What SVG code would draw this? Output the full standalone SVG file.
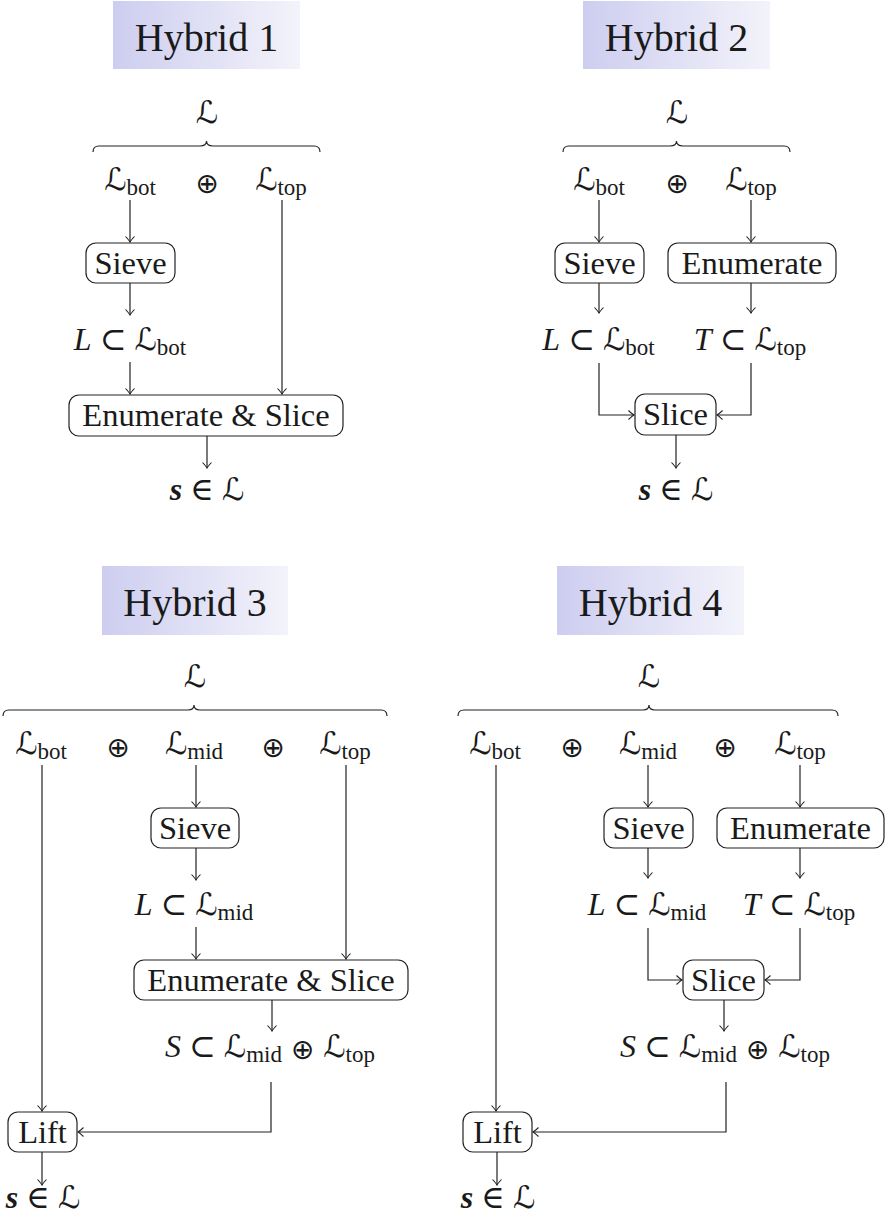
<svg xmlns="http://www.w3.org/2000/svg" width="889" height="1224" viewBox="0 0 889 1224">
<defs>
<linearGradient id="tg" x1="0" y1="0" x2="1" y2="0">
<stop offset="0" stop-color="#cdcdf0"/>
<stop offset="1" stop-color="#f3f3fb"/>
</linearGradient>
<marker id="arr" viewBox="-7 -6 8 12" refX="0" refY="0" markerWidth="8" markerHeight="12" markerUnits="userSpaceOnUse" orient="auto">
<path d="M-5.5,-4.5 Q-1.5,-0.8 0,0 Q-1.5,0.8 -5.5,4.5" fill="none" stroke="#222" stroke-width="1.1"/>
</marker>
<style>
.tbox{fill:url(#tg);stroke:none}
.title{font-family:"Liberation Serif",serif;font-size:40px;fill:#1a1a1a;text-anchor:middle}
.box{fill:#fff;stroke:#222;stroke-width:1.2}
.lbl{font-family:"Liberation Serif",serif;font-size:32.5px;fill:#1a1a1a;text-anchor:middle}
.m{font-family:"Liberation Serif","DejaVu Serif","DejaVu Sans",serif;font-size:32px;fill:#1a1a1a;text-anchor:middle}
.cal{font-family:"DejaVu Serif","DejaVu Sans",serif;font-size:31px}
.i{font-style:italic}
.bi{font-style:italic;font-weight:bold}
.sub{font-size:23px}
.op{font-family:"DejaVu Sans",sans-serif;font-size:28px}
.conn{fill:none;stroke:#222;stroke-width:1.2}
.ar{marker-end:url(#arr)}
.brace{fill:none;stroke:#222;stroke-width:1.2}
</style>
</defs>

<!-- ===== Hybrid 1 ===== -->
<g id="hybrid1-title">
<rect class="tbox" x="113" y="1" width="187" height="68"/>
<text class="title" x="206.5" y="51">Hybrid 1</text>
</g>
<g id="h1-L">
<text class="m" x="207" y="123"><tspan class="cal">ℒ</tspan></text>
<path class="brace" d="M93,152 Q93,146 99,146 L200,146 Q206.5,146 206.5,141 Q206.5,146 213,146 L314,146 Q320,146 320,152"/>
</g>
<g id="h1-Lbot"><text class="m" x="130" y="190"><tspan class="cal">ℒ</tspan><tspan class="sub" dy="5">bot</tspan></text></g>
<g id="h1-oplus"><text class="m op" x="207" y="193">⊕</text></g>
<g id="h1-Ltop"><text class="m" x="281" y="190"><tspan class="cal">ℒ</tspan><tspan class="sub" dy="5">top</tspan></text></g>
<g id="h1-sieve"><rect class="box" x="86" y="243" width="89" height="40" rx="10"/><text class="lbl" x="130.5" y="274">Sieve</text></g>
<g id="h1-LsubLbot"><text class="m" x="130" y="350"><tspan class="i">L</tspan> ⊂ <tspan class="cal">ℒ</tspan><tspan class="sub" dy="5">bot</tspan></text></g>
<g id="h1-enumslice"><rect class="box" x="69" y="395" width="274" height="41" rx="10"/><text class="lbl" x="206" y="426">Enumerate &amp; Slice</text></g>
<g id="h1-out"><text class="m" x="207" y="500"><tspan class="bi">s</tspan> ∈ <tspan class="cal">ℒ</tspan></text></g>

<!-- ===== Hybrid 2 ===== -->
<g id="hybrid2-title">
<rect class="tbox" x="583" y="1" width="187" height="68"/>
<text class="title" x="676.5" y="51">Hybrid 2</text>
</g>
<g id="h2-L">
<text class="m" x="677" y="123"><tspan class="cal">ℒ</tspan></text>
<path class="brace" d="M563,152 Q563,146 569,146 L670,146 Q676.5,146 676.5,141 Q676.5,146 683,146 L784,146 Q790,146 790,152"/>
</g>
<g id="h2-Lbot"><text class="m" x="599" y="190"><tspan class="cal">ℒ</tspan><tspan class="sub" dy="5">bot</tspan></text></g>
<g id="h2-oplus"><text class="m op" x="677" y="193">⊕</text></g>
<g id="h2-Ltop"><text class="m" x="751" y="190"><tspan class="cal">ℒ</tspan><tspan class="sub" dy="5">top</tspan></text></g>
<g id="h2-sieve"><rect class="box" x="555" y="243" width="89" height="40" rx="10"/><text class="lbl" x="599.5" y="274">Sieve</text></g>
<g id="h2-enum"><rect class="box" x="668" y="243" width="168" height="40" rx="10"/><text class="lbl" x="752" y="274">Enumerate</text></g>
<g id="h2-LsubLbot"><text class="m" x="598.5" y="350"><tspan class="i">L</tspan> ⊂ <tspan class="cal">ℒ</tspan><tspan class="sub" dy="5">bot</tspan></text></g>
<g id="h2-TsubLtop"><text class="m" x="750" y="350"><tspan class="i">T</tspan> ⊂ <tspan class="cal">ℒ</tspan><tspan class="sub" dy="5">top</tspan></text></g>
<g id="h2-slice"><rect class="box" x="635" y="394" width="81" height="41" rx="10"/><text class="lbl" x="675.5" y="425">Slice</text></g>
<g id="h2-out"><text class="m" x="676" y="500"><tspan class="bi">s</tspan> ∈ <tspan class="cal">ℒ</tspan></text></g>

<!-- ===== Hybrid 3 ===== -->
<g id="hybrid3-title">
<rect class="tbox" x="102" y="566" width="186" height="69"/>
<text class="title" x="195" y="616">Hybrid 3</text>
</g>
<g id="h3-L">
<text class="m" x="195" y="687"><tspan class="cal">ℒ</tspan></text>
<path class="brace" d="M3,716 Q3,710 9,710 L188,710 Q194,710 194,705 Q194,710 200,710 L381,710 Q387,710 387,716"/>
</g>
<g id="h3-Lbot"><text class="m" x="41" y="754"><tspan class="cal">ℒ</tspan><tspan class="sub" dy="5">bot</tspan></text></g>
<g id="h3-oplus1"><text class="m op" x="118" y="757">⊕</text></g>
<g id="h3-Lmid"><text class="m" x="194" y="754"><tspan class="cal">ℒ</tspan><tspan class="sub" dy="5">mid</tspan></text></g>
<g id="h3-oplus2"><text class="m op" x="273" y="757">⊕</text></g>
<g id="h3-Ltop"><text class="m" x="345" y="754"><tspan class="cal">ℒ</tspan><tspan class="sub" dy="5">top</tspan></text></g>
<g id="h3-sieve"><rect class="box" x="151" y="808" width="88" height="40" rx="10"/><text class="lbl" x="195" y="839">Sieve</text></g>
<g id="h3-LsubLmid"><text class="m" x="194" y="915"><tspan class="i">L</tspan> ⊂ <tspan class="cal">ℒ</tspan><tspan class="sub" dy="5">mid</tspan></text></g>
<g id="h3-enumslice"><rect class="box" x="134" y="960" width="274" height="40" rx="10"/><text class="lbl" x="271" y="991">Enumerate &amp; Slice</text></g>
<g id="h3-S"><text class="m" x="270" y="1057"><tspan class="i">S</tspan> ⊂ <tspan class="cal">ℒ</tspan><tspan class="sub" dy="5">mid</tspan><tspan class="op" dy="-3"> ⊕ </tspan><tspan class="cal" dy="-2">ℒ</tspan><tspan class="sub" dy="5">top</tspan></text></g>
<g id="h3-lift"><rect class="box" x="8" y="1112" width="69" height="40" rx="10"/><text class="lbl" x="42.5" y="1143">Lift</text></g>
<g id="h3-out"><text class="m" x="43" y="1208"><tspan class="bi">s</tspan> ∈ <tspan class="cal">ℒ</tspan></text></g>

<!-- ===== Hybrid 4 ===== -->
<g id="hybrid4-title">
<rect class="tbox" x="557" y="566" width="187" height="69"/>
<text class="title" x="650.5" y="616">Hybrid 4</text>
</g>
<g id="h4-L">
<text class="m" x="649" y="687"><tspan class="cal">ℒ</tspan></text>
<path class="brace" d="M458,716 Q458,710 464,710 L643,710 Q649,710 649,705 Q649,710 655,710 L832,710 Q838,710 838,716"/>
</g>
<g id="h4-Lbot"><text class="m" x="495" y="754"><tspan class="cal">ℒ</tspan><tspan class="sub" dy="5">bot</tspan></text></g>
<g id="h4-oplus1"><text class="m op" x="572" y="757">⊕</text></g>
<g id="h4-Lmid"><text class="m" x="648" y="754"><tspan class="cal">ℒ</tspan><tspan class="sub" dy="5">mid</tspan></text></g>
<g id="h4-oplus2"><text class="m op" x="725" y="757">⊕</text></g>
<g id="h4-Ltop"><text class="m" x="800" y="754"><tspan class="cal">ℒ</tspan><tspan class="sub" dy="5">top</tspan></text></g>
<g id="h4-sieve"><rect class="box" x="604" y="808" width="89" height="40" rx="10"/><text class="lbl" x="648.5" y="839">Sieve</text></g>
<g id="h4-enum"><rect class="box" x="717" y="808" width="167" height="40" rx="10"/><text class="lbl" x="800.5" y="839">Enumerate</text></g>
<g id="h4-LsubLmid"><text class="m" x="647" y="915"><tspan class="i">L</tspan> ⊂ <tspan class="cal">ℒ</tspan><tspan class="sub" dy="5">mid</tspan></text></g>
<g id="h4-TsubLtop"><text class="m" x="799" y="915"><tspan class="i">T</tspan> ⊂ <tspan class="cal">ℒ</tspan><tspan class="sub" dy="5">top</tspan></text></g>
<g id="h4-slice"><rect class="box" x="683" y="960" width="81" height="40" rx="10"/><text class="lbl" x="723.5" y="991">Slice</text></g>
<g id="h4-S"><text class="m" x="725" y="1057"><tspan class="i">S</tspan> ⊂ <tspan class="cal">ℒ</tspan><tspan class="sub" dy="5">mid</tspan><tspan class="op" dy="-3"> ⊕ </tspan><tspan class="cal" dy="-2">ℒ</tspan><tspan class="sub" dy="5">top</tspan></text></g>
<g id="h4-lift"><rect class="box" x="463" y="1112" width="69" height="40" rx="10"/><text class="lbl" x="497.5" y="1143">Lift</text></g>
<g id="h4-out"><text class="m" x="498" y="1208"><tspan class="bi">s</tspan> ∈ <tspan class="cal">ℒ</tspan></text></g>

<!-- ===== Connectors ===== -->
<g id="connectors">
<!-- Hybrid 1 -->
<path class="conn ar" d="M130,200 V242"/>
<path class="conn ar" d="M130,283 V315"/>
<path class="conn ar" d="M130,362 V394"/>
<path class="conn ar" d="M282,200 V394"/>
<path class="conn ar" d="M207,436 V468"/>
<!-- Hybrid 2 -->
<path class="conn ar" d="M599,200 V242"/>
<path class="conn ar" d="M751,200 V242"/>
<path class="conn ar" d="M599,283 V313"/>
<path class="conn ar" d="M751,283 V313"/>
<path class="conn ar" d="M599,363 V415 H634"/>
<path class="conn ar" d="M751,363 V415 H717"/>
<path class="conn ar" d="M676,435 V468"/>
<!-- Hybrid 3 -->
<path class="conn ar" d="M42,765 V1111"/>
<path class="conn ar" d="M196,765 V807"/>
<path class="conn ar" d="M196,848 V880"/>
<path class="conn ar" d="M196,927 V959"/>
<path class="conn ar" d="M346,765 V959"/>
<path class="conn ar" d="M272,1000 V1031"/>
<path class="conn ar" d="M271,1082 V1132 H78"/>
<path class="conn ar" d="M42,1152 V1185"/>
<!-- Hybrid 4 -->
<path class="conn ar" d="M496,765 V1111"/>
<path class="conn ar" d="M648,765 V807"/>
<path class="conn ar" d="M800,765 V807"/>
<path class="conn ar" d="M648,848 V878"/>
<path class="conn ar" d="M800,848 V878"/>
<path class="conn ar" d="M648,928 V980 H682"/>
<path class="conn ar" d="M800,928 V980 H765"/>
<path class="conn ar" d="M724,1000 V1031"/>
<path class="conn ar" d="M726,1082 V1132 H533"/>
<path class="conn ar" d="M497,1152 V1185"/>
</g>
</svg>
